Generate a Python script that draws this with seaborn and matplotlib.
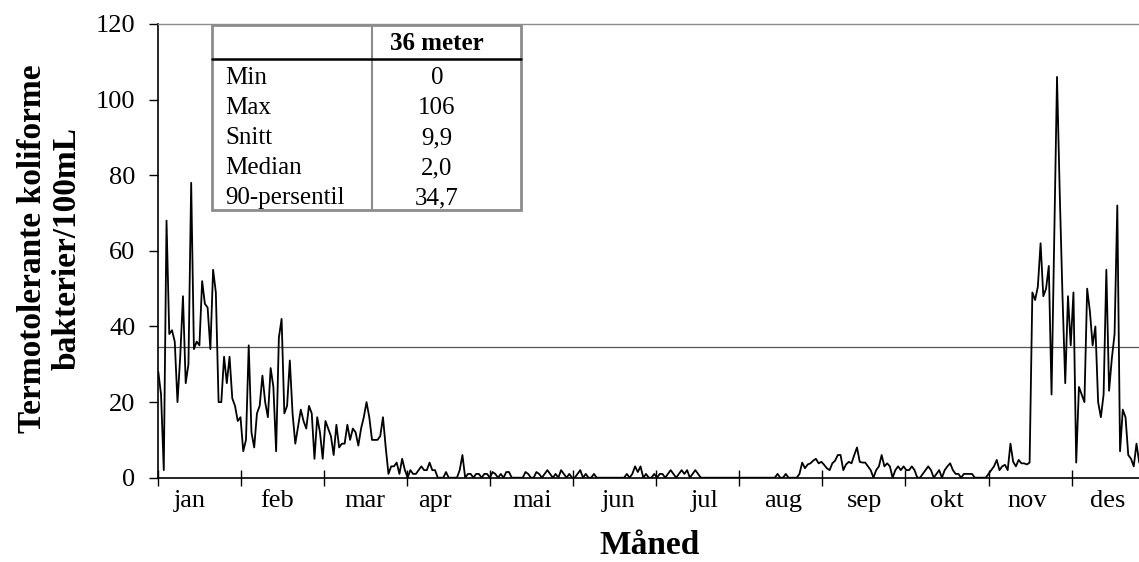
import matplotlib
matplotlib.use("Agg")
import matplotlib.pyplot as plt
from matplotlib.patches import Rectangle
from matplotlib.lines import Line2D
import numpy as np
import pandas as pd
import seaborn as sns

# Daily values (one per day from 1 January)
jan_feb = [28, 22, 2, 68, 38, 39, 36, 20, 32, 48, 25, 30, 78, 34, 36, 35, 52, 46, 45, 34,
           55, 49, 20, 20, 32, 25, 32, 21, 19, 15, 16, 7, 10, 35, 12, 8, 17, 19, 27, 20,
           16, 29, 24, 7, 37, 42]
feb_mar = [17, 19, 31, 17, 9, 13.5, 18, 15, 13, 19, 17, 5, 16, 12, 5, 15, 13, 11, 6, 14,
           8, 9, 9, 14, 10, 13, 12, 8.5, 13, 16, 20, 16, 10, 10, 10, 11, 16, 8, 1]
apr_mai = [3, 3, 4, 1, 5, 2, 0, 2, 1, 1, 2, 3, 2, 2, 4, 2, 2, 0, 0, 0,
           1.5, 0, 0, 0, 0, 2, 6, 0, 1, 1, 0, 1, 1, 0, 1, 1, 0, 1.5, 1, 0,
           1, 0, 1.5, 1.5, 0, 0, 0, 0, 0, 1.5, 1, 0, 0, 1.5]
jun_jul = [1, 0, 1, 2, 1, 0, 1, 0, 2, 1, 0, 1, 0, 0, 1, 2, 0, 1, 0, 0, 1,
           0, 0, 0, 0, 0, 0, 0, 0, 0, 0, 0,
           1, 0, 1, 3, 1.5, 3, 0, 1, 0, 0, 1, 0, 1, 1, 0, 1, 2, 1, 0, 1, 2, 1, 2, 0, 1, 2, 1, 0, 0,
           0, 0, 0, 0, 0, 0, 0, 0, 0, 0, 0, 0, 0, 0, 0, 0, 0, 0, 0, 0, 0, 0, 0, 0, 0, 0,
           1, 0, 0, 1, 0, 0, 0, 0]
aug_okt = [1, 4, 2.5, 3.5, 3.8, 4.5, 5, 3.8, 4.2, 3.4, 2.5, 2, 3.8, 4.5, 6, 6, 2, 3.5, 4.2, 3.8,
           6, 8, 4.2, 4, 4, 3, 2, 0, 2, 3, 6, 3, 3.8, 3, 0, 2, 3, 2, 3, 2,
           2, 3, 2, 0, 0, 1, 2, 3, 2, 0, 1, 2, 0, 2, 3, 3.8, 2, 1, 1, 0,
           1, 1, 1, 1, 0, 0, 0, 0, 0, 1, 2, 3, 4.7, 2, 3, 3.4, 2, 9, 4.2, 3,
           4.7, 3.8, 3.8, 3.5, 4]
nov_des = [49, 47, 50.5, 62, 48, 50, 56, 22, 64, 106, 75, 48, 25, 48, 35, 49, 4, 24, 22, 20,
           50, 44, 35, 40, 20, 16, 22, 55, 23, 31.5, 38, 72, 7, 18, 16, 6, 5, 3, 9, 4]

months = ["jan", "feb", "mar", "apr", "mai", "jun", "jul", "aug", "sep", "okt", "nov", "des"]
month_label_pos = [11.6, 43.3, 75.4, 101, 136.4, 167.8, 199.5, 228, 257.6, 287.9, 317, 346.6]

p90 = 34.7
stat_header = "36 meter"
stat_names = ["Min", "Max", "Snitt", "Median", "90-persentil"]
stat_values = ["0", "106", "9,9", "2,0", "34,7"]

values = jan_feb + feb_mar + apr_mai + jun_jul + aug_okt + nov_des
df = pd.DataFrame({"dag": np.arange(len(values)), "verdi": values})

sns.set_theme(style="white")
plt.rcParams["font.family"] = ["Liberation Serif", "DejaVu Serif"]
plt.rcParams["text.color"] = "black"

W, H = 1139, 562
fig = plt.figure(figsize=(W / 100, H / 100), dpi=100)


def fx(x):
    return x / W


def fy(y):
    return 1 - y / H


# plot area in pixels (left, right, top, bottom)
x0, x1, y0, y1 = 158.3, 1139, 24, 477.7
ax = fig.add_axes([fx(x0), fy(y1), fx(x1) - fx(x0), fy(y0) - fy(y1)])

ax.axhline(p90, color="#555555", lw=0.9, zorder=1)
sns.lineplot(data=df, x="dag", y="verdi", color="black", lw=1.3, ax=ax, zorder=2)

ax.set_xlim(0, (x1 - x0) / 2.74)
ax.set_ylim(0, 120)
ax.set_yticks(range(0, 121, 20))
ax.set_xticks(np.arange(12) * 30.3)
ax.set_xticks(month_label_pos, labels=months, minor=True)
ax.set_xlabel("")
ax.set_ylabel("")

ax.tick_params(axis="y", left=True, direction="out", length=6.5, width=1,
               color="black", pad=10, labelsize=19, labelcolor="black")
ax.tick_params(axis="x", which="major", bottom=True, direction="inout", length=11,
               width=1, color="black", labelbottom=False)
ax.tick_params(axis="x", which="minor", bottom=True, length=0, pad=8.5,
               labelsize=19, labelcolor="black")

for s in ["left", "bottom"]:
    ax.spines[s].set_color("black")
    ax.spines[s].set_linewidth(1.2)
ax.spines["top"].set_color("#8c8c8c")
ax.spines["top"].set_linewidth(1)
ax.spines["right"].set_visible(False)

# axis titles
fig.text(fx(650), fy(546), "Måned", ha="center", va="center",
         fontsize=24, fontweight="bold")
fig.text(fx(50), fy(249), "Termotolerante koliforme\nbakterier/100mL", ha="center",
         va="center", rotation=90, fontsize=24, fontweight="bold",
         multialignment="center", linespacing=1.15)

# statistics table
tl, tr, tt, tb = 212, 521, 25, 210
col = 372
fig.add_artist(Rectangle((fx(tl), fy(tb)), fx(tr) - fx(tl), fy(tt) - fy(tb),
                         transform=fig.transFigure, facecolor="white",
                         edgecolor="#8c8c8c", lw=2, zorder=5))
fig.add_artist(Line2D([fx(col), fx(col)], [fy(tt), fy(tb)], transform=fig.transFigure,
                      color="#8c8c8c", lw=1.5, zorder=6))
fig.add_artist(Line2D([fx(tl), fx(tr)], [fy(59), fy(59)], transform=fig.transFigure,
                      color="black", lw=1.8, zorder=6))
fig.text(fx(437), fy(43), stat_header, ha="center", va="center", fontsize=18,
         fontweight="bold", zorder=7)
for i, (name, val) in enumerate(zip(stat_names, stat_values)):
    yy = 78 + 30 * i
    fig.text(fx(225), fy(yy), name, ha="left", va="center", fontsize=18, zorder=7)
    fig.text(fx(437), fy(yy), val, ha="center", va="center", fontsize=18, zorder=7)

fig.savefig("out.png", dpi=100)
